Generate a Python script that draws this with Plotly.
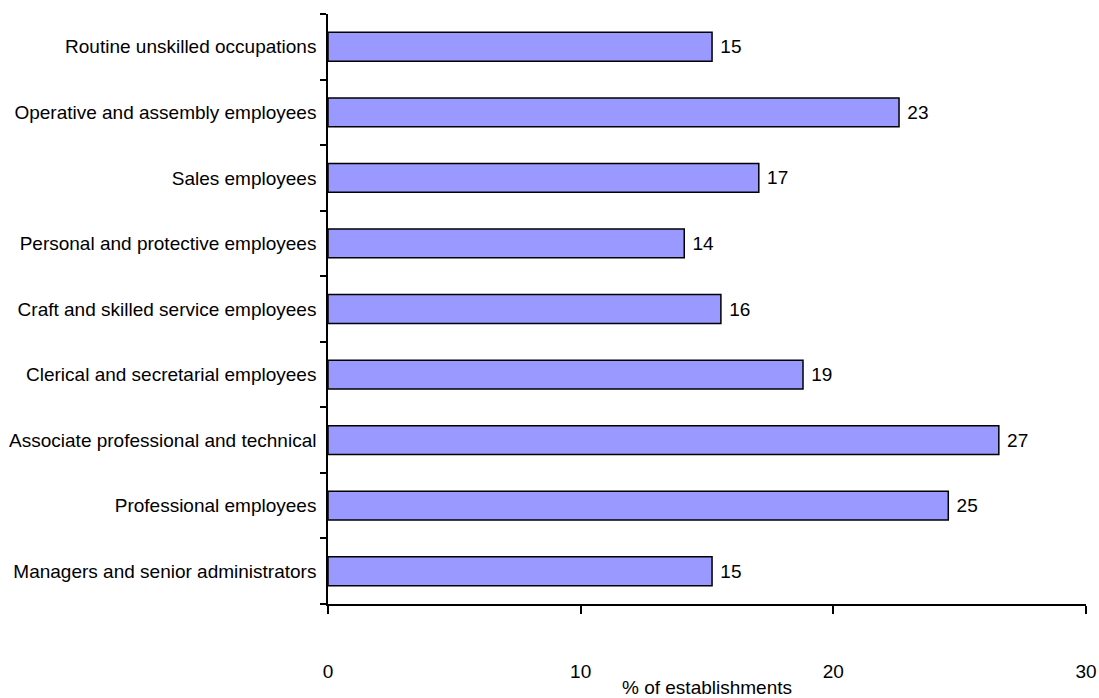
import plotly.graph_objects as go

categories = [
    "Managers and senior administrators",
    "Professional employees",
    "Associate professional and technical",
    "Clerical and secretarial employees",
    "Craft and skilled service employees",
    "Personal and protective employees",
    "Sales employees",
    "Operative and assembly employees",
    "Routine unskilled occupations",
]
values = [15.2, 24.55, 26.55, 18.8, 15.55, 14.1, 17.05, 22.6, 15.2]
labels = ["15", "25", "27", "19", "16", "14", "17", "23", "15"]
x_ticks = [0, 10, 20, 30]

FONT = "Liberation Sans, Arial, sans-serif"
FS = 19

fig = go.Figure(go.Bar(
    y=categories, x=values, orientation="h",
    marker=dict(color="#9999FF", line=dict(color="black", width=1.5)),
    width=0.44,
    text=["\u00a0" + t for t in labels], textposition="outside", cliponaxis=False,
    textfont=dict(family=FONT, size=FS, color="black"),
))

fig.update_layout(
    width=1099, height=698,
    margin=dict(l=328, r=13, t=14, b=94),
    plot_bgcolor="white", paper_bgcolor="white",
    font=dict(family=FONT, size=FS, color="black"),
    showlegend=False,
    xaxis=dict(
        range=[0, 30], tickvals=x_ticks, showgrid=False, zeroline=False,
        showline=True, linecolor="black", linewidth=1.5,
        ticks="outside", ticklen=8, tickwidth=1.5, tickcolor="black",
        ticklabelstandoff=41, automargin=False,
        title=dict(text="% of establishments", standoff=12,
                   font=dict(family=FONT, size=FS)),
    ),
    yaxis=dict(
        showgrid=False, zeroline=False, automargin=False,
        showline=True, linecolor="black", linewidth=1.5,
        ticks="outside", ticklen=6, tickwidth=1.5, tickcolor="black",
        tickson="boundaries", ticklabelstandoff=6,
    ),
)

fig.write_html(
    "out.html",
    config={"displayModeBar": False},
    post_script="document.body.style.margin='0';document.body.style.overflow='hidden';",
)
